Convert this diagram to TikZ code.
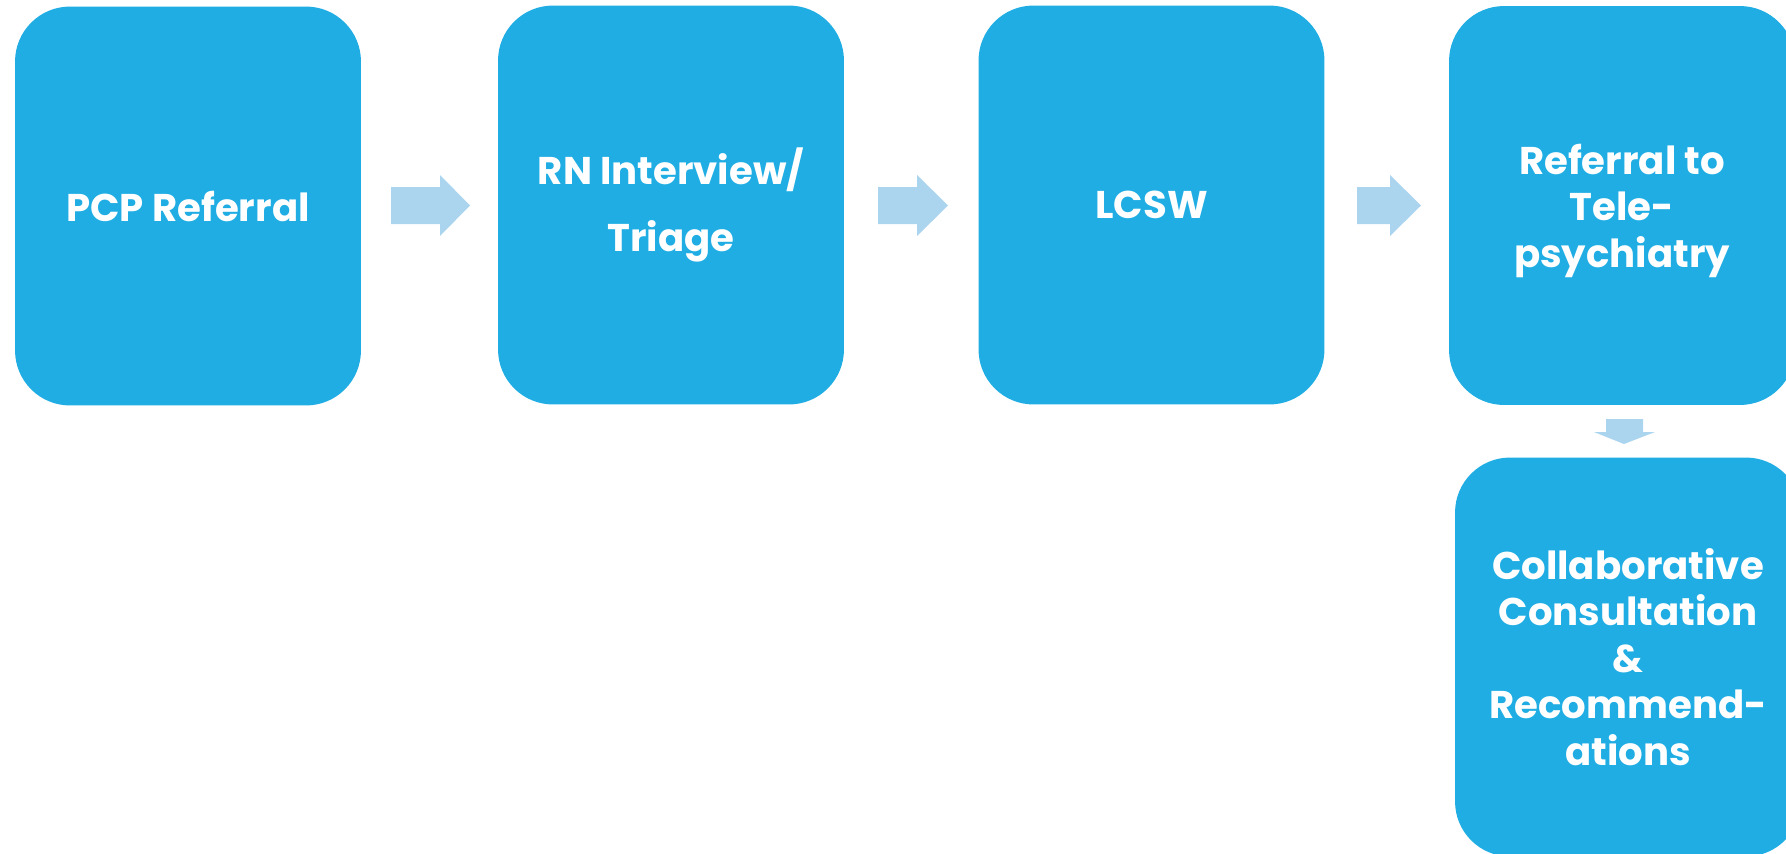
\documentclass[tikz,border=0pt]{standalone}
\usepackage{fontspec}
\setmainfont{Poppins}
\definecolor{boxblue}{RGB}{31,173,228}
\definecolor{arrowblue}{RGB}{171,212,239}
\begin{document}
\begin{tikzpicture}[x=0.02cm,y=-0.02cm,
  stepbox/.style={fill=boxblue, draw=none, rounded corners=1.1cm, minimum width=6.92cm, minimum height=7.98cm,
    text=white, align=center, inner sep=0pt, font=\fontsize{22}{26.5}\selectfont\bfseries},
  blockarrow/.style={fill=arrowblue, draw=none}]
\useasboundingbox (0,0) rectangle (1786,853);
\clip (0,0) rectangle (1786,853);
\node[stepbox] (pcp) at (188,206) {PCP Referral};
\node[stepbox] (rn) at (671,205) {RN Interview/\\[12pt]Triage};
\node[stepbox] (lcsw) at (1151.5,205) {LCSW};
\node[stepbox, text depth=0pt] (tele) at (1622,205.5) {Referral to\\Tele-\\psychiatry};
\node[stepbox] (collab) at (1628,657) {Collaborative\\Consultation\\\&\\Recommend-\\ations};
% block arrows
\fill[blockarrow] (391,187) -- (440,187) -- (440,175) -- (470,205.5) -- (440,236) -- (440,224) -- (391,224) -- cycle;
\fill[blockarrow] (878,187) -- (917,187) -- (917,175) -- (948,205.5) -- (917,236) -- (917,224) -- (878,224) -- cycle;
\fill[blockarrow] (1357,187) -- (1390,187) -- (1390,175) -- (1421,205.5) -- (1390,236) -- (1390,224) -- (1357,224) -- cycle;
\fill[blockarrow] (1606,419) -- (1643,419) -- (1643,432) -- (1655,432) -- (1624,444) -- (1594,432) -- (1606,432) -- cycle;
\end{tikzpicture}
\end{document}
